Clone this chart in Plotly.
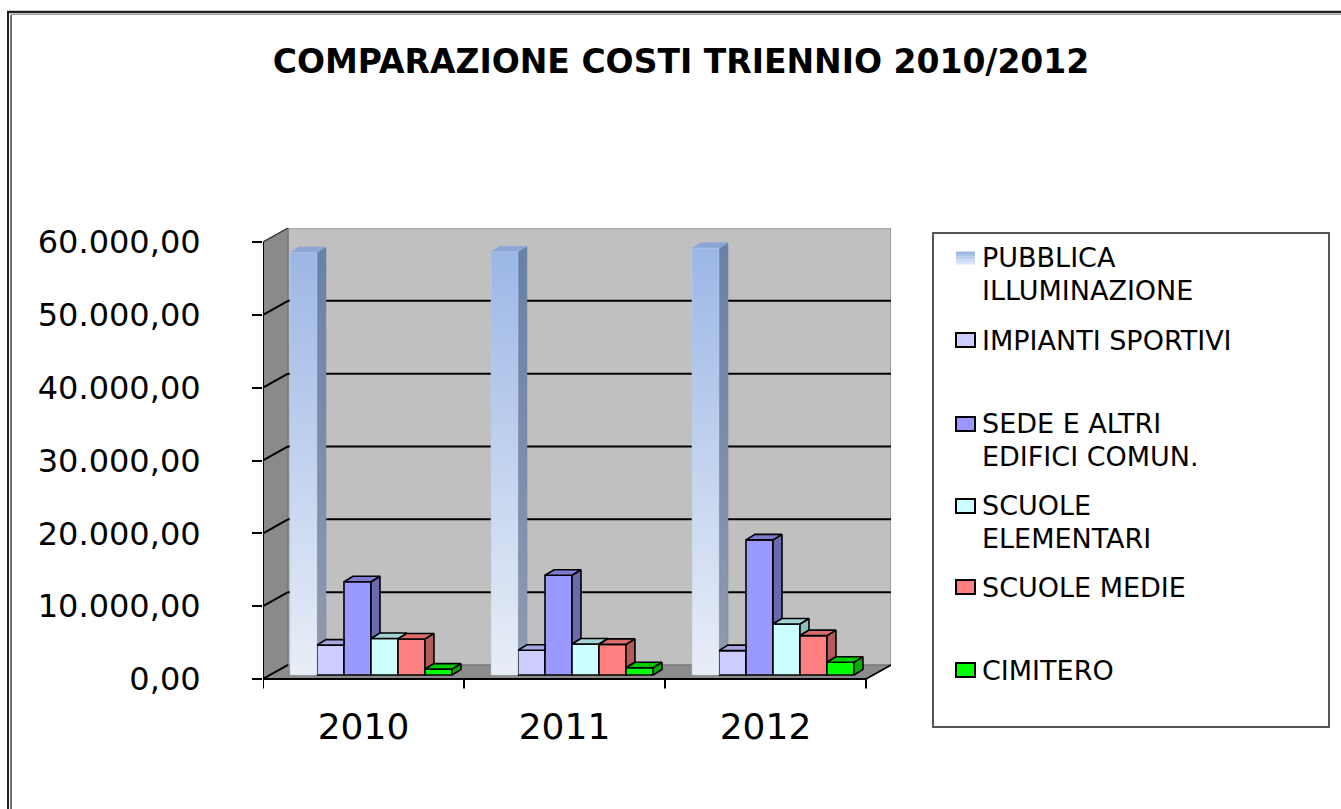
import plotly.graph_objects as go

# ---------------- data ----------------
years = ["2010", "2011", "2012"]
pubblica_illuminazione = [58000, 58100, 58600]
impianti_sportivi = [4100, 3400, 3350]
sede_altri_edifici = [12800, 13700, 18550]
scuole_elementari = [5000, 4250, 7000]
scuole_medie = [4950, 4200, 5400]
cimitero = [800, 1000, 1750]

series_names = ["PUBBLICA ILLUMINAZIONE", "IMPIANTI SPORTIVI", "SEDE E ALTRI EDIFICI COMUN.",
                "SCUOLE ELEMENTARI", "SCUOLE MEDIE", "CIMITERO"]
legend_lines = [["PUBBLICA", "ILLUMINAZIONE"], ["IMPIANTI SPORTIVI"], ["SEDE E ALTRI", "EDIFICI COMUN."],
                ["SCUOLE", "ELEMENTARI"], ["SCUOLE MEDIE"], ["CIMITERO"]]
y_tick_values = [0, 10000, 20000, 30000, 40000, 50000, 60000]
y_tick_labels = ["0,00", "10.000,00", "20.000,00", "30.000,00", "40.000,00", "50.000,00", "60.000,00"]
title_text = "COMPARAZIONE COSTI TRIENNIO 2010/2012"

series_values = [pubblica_illuminazione, impianti_sportivi, sede_altri_edifici,
                 scuole_elementari, scuole_medie, cimitero]

# ---------------- styling ----------------
front_colors = ["#B9CCEC", "#CCCCFF", "#9999FF", "#CCFFFF", "#FF8080", "#00FF00"]
top_colors = ["#8CA7D7", "#A6A6E2", "#7C7CD0", "#A3D3D3", "#D96B6B", "#00CC00"]
side_colors = ["#7086AE", "#8F8FBC", "#6A6AB0", "#8EBDBD", "#B35A5A", "#00B000"]

FONT = "DejaVu Sans"
W, H = 1341, 809
ML, MR, MT, MB = 263, 450, 228, 119
PW, PH = W - ML - MR, H - MT - MB


def px_x(px):
    return (px - ML) / PW


def px_y(py):
    return (H - MB - py) / PH


# 3D geometry in data units
X_FRONT0, X_FRONT1 = -0.5, 2.5
WALL_DX, WALL_DY = 0.1244, 1923
Y_TOP = 60000
BAR_W = 0.1343
BAR_START = -0.3657
BAR_DX, BAR_DY = 0.0448, 755
BAR_BASE = 550

fig = go.Figure()

# ---------------- front faces (bars) ----------------
for k, (name, vals) in enumerate(zip(series_names, series_values)):
    xs = [i + BAR_START + k * BAR_W for i in range(len(years))]
    fig.add_trace(go.Bar(
        x=xs, y=vals, base=BAR_BASE, width=BAR_W, offset=0, name=name,
        marker=dict(color=front_colors[k],
                    line=dict(color="black", width=0 if k == 0 else 1.6)),
        customdata=years, hovertemplate=name + " %{customdata}: %{y:,.2f}<extra></extra>",
        showlegend=False,
    ))


def poly(xs, ys, color, line_w=1.6, gradient=None):
    tr = go.Scatter(x=xs, y=ys, mode="lines", fill="toself", fillcolor=color,
                    line=dict(color="black" if line_w else color, width=line_w or 0.5),
                    hoverinfo="skip", showlegend=False)
    if gradient is not None:
        tr.update(fillgradient=gradient)
    fig.add_trace(tr)


# ---------------- side / top faces, painted left to right ----------------
n = len(series_values)
for i in range(len(years)):
    for k in range(n):
        xl = i + BAR_START + k * BAR_W
        xr = xl + BAR_W
        top = BAR_BASE + series_values[k][i]
        nxt = BAR_BASE + series_values[k + 1][i] if k + 1 < n else None
        lw = 0 if k == 0 else 1.6

        # right side face, hidden below the next bar's top
        floor = nxt if nxt is not None else BAR_BASE
        if floor < top:
            grad = None
            if k == 0:
                grad = dict(type="vertical", start=floor, stop=top + BAR_DY,
                            colorscale=[[0, "#8E99AD"], [1, "#6A80A8"]])
            poly([xr, xr, xr + BAR_DX, xr + BAR_DX, xr],
                 [floor, top, top + BAR_DY, floor + BAR_DY, floor],
                 side_colors[k], lw, grad)

        # top face, partly covered by a taller neighbour
        if nxt is None or nxt <= top:
            txs = [xl, xr, xr + BAR_DX, xl + BAR_DX, xl]
            tys = [top, top, top + BAR_DY, top + BAR_DY, top]
        else:
            m = min(nxt, top + BAR_DY)
            xb = xr + BAR_DX * (top + BAR_DY - m) / BAR_DY
            txs = [xl, xr, xr, xb, xl + BAR_DX, xl]
            tys = [top, top, m, top + BAR_DY, top + BAR_DY, top]
        poly(txs, tys, top_colors[k], lw)

        # gradient front of the lighting column
        if k == 0:
            poly([xl, xr, xr, xl, xl], [BAR_BASE, BAR_BASE, top, top, BAR_BASE],
                 front_colors[0], 0,
                 dict(type="vertical", start=BAR_BASE, stop=top,
                      colorscale=[[0, "#E9EEF7"], [1, "#9CB7E6"]]))

# ---------------- walls, floor, grid ----------------
shapes = []
bx0, bx1 = X_FRONT0 + WALL_DX, X_FRONT1 + WALL_DX
shapes.append(dict(type="rect", xref="x", yref="y", x0=bx0, x1=bx1, y0=WALL_DY, y1=Y_TOP + WALL_DY,
                   fillcolor="#C0C0C0", line=dict(color="#8A8A8A", width=1.2), layer="below"))
shapes.append(dict(type="path", xref="x", yref="y", layer="below",
                   path=f"M {X_FRONT0},0 L {bx0},{WALL_DY} L {bx0},{Y_TOP + WALL_DY} L {X_FRONT0},{Y_TOP} Z",
                   fillcolor="#8A8A8A", line=dict(color="#6E6E6E", width=1)))
shapes.append(dict(type="path", xref="x", yref="y", layer="below",
                   path=f"M {X_FRONT0},0 L {X_FRONT1},0 L {bx1},{WALL_DY} L {bx0},{WALL_DY} Z",
                   fillcolor="#8C8C8C", line=dict(color="#6E6E6E", width=1)))
for v in y_tick_values:
    if 0 < v < Y_TOP:
        shapes.append(dict(type="line", xref="x", yref="y", x0=bx0, x1=bx1, y0=v + WALL_DY, y1=v + WALL_DY,
                           line=dict(color="black", width=2), layer="below"))
    shapes.append(dict(type="line", xref="x", yref="y", x0=X_FRONT0, x1=bx0, y0=v, y1=v + WALL_DY,
                       line=dict(color="black" if v < Y_TOP else "#333333", width=2 if v < Y_TOP else 1.2),
                       layer="below"))
# front axes
shapes.append(dict(type="line", xref="x", yref="y", x0=X_FRONT0, x1=X_FRONT0, y0=-1100, y1=Y_TOP,
                   line=dict(color="black", width=2), layer="below"))
shapes.append(dict(type="line", xref="x", yref="y", x0=X_FRONT0, x1=X_FRONT1, y0=0, y1=0,
                   line=dict(color="black", width=2.2), layer="below"))
shapes.append(dict(type="line", xref="x", yref="y", x0=X_FRONT1, x1=bx1, y0=0, y1=WALL_DY,
                   line=dict(color="black", width=1.6), layer="below"))
for j in range(len(years) + 1):
    xb = X_FRONT0 + j
    shapes.append(dict(type="line", xref="x", yref="y", x0=xb, x1=xb, y0=0, y1=-1300,
                       line=dict(color="black", width=2), layer="below"))

# ---------------- legend box ----------------
shapes.append(dict(type="rect", xref="paper", yref="paper", x0=px_x(933), x1=px_x(1329),
                   y0=px_y(727), y1=px_y(233), line=dict(color="#555555", width=2), fillcolor="white"))
swatch_rows = [258, 340, 424, 506, 587, 670]
text_rows = [[257, 290], [340], [423, 456], [505, 538], [587], [670]]
annotations = []
for k in range(n):
    cy = swatch_rows[k]
    if k == 0:
        strips = ["#9CB5E2", "#A9C0E7", "#BACDED", "#CBD9F2", "#DAE4F6"]
        h = 13 / len(strips)
        for s, c in enumerate(strips):
            shapes.append(dict(type="rect", xref="paper", yref="paper",
                               x0=px_x(956), x1=px_x(975), y0=px_y(cy - 6.5 + (s + 1) * h),
                               y1=px_y(cy - 6.5 + s * h), fillcolor=c, line=dict(width=0)))
    else:
        shapes.append(dict(type="rect", xref="paper", yref="paper", x0=px_x(956), x1=px_x(975),
                           y0=px_y(cy + 7), y1=px_y(cy - 7), fillcolor=front_colors[k],
                           line=dict(color="black", width=2)))
    for line_txt, ty in zip(legend_lines[k], text_rows[k]):
        annotations.append(dict(text=line_txt, xref="paper", yref="paper", x=px_x(981), y=px_y(ty),
                                xanchor="left", yanchor="middle", showarrow=False, borderpad=0,
                                font=dict(family=FONT, size=27, color="black")))

# ---------------- outer frame ----------------
for d, col, wd in [(0, "#222222", 2), (3, "#444444", 1.5)]:
    shapes.append(dict(type="line", xref="paper", yref="paper", x0=px_x(8 + d), x1=px_x(8 + d),
                       y0=px_y(12 + d), y1=px_y(820), line=dict(color=col, width=wd)))
shapes.append(dict(type="line", xref="paper", yref="paper", x0=px_x(7), x1=px_x(1345),
                   y0=px_y(12), y1=px_y(12), line=dict(color="#222222", width=2.5)))
shapes.append(dict(type="line", xref="paper", yref="paper", x0=px_x(11), x1=px_x(1345),
                   y0=px_y(14.5), y1=px_y(14.5), line=dict(color="#9A9A9A", width=1)))

fig.update_layout(
    width=W, height=H,
    margin=dict(l=ML, r=MR, t=MT, b=MB, pad=0),
    paper_bgcolor="white", plot_bgcolor="white",
    barmode="overlay", showlegend=False,
    shapes=shapes, annotations=annotations,
    title=dict(text="<b>" + title_text + "</b>", x=681 / W, xanchor="center",
               y=1 - 61 / H, yanchor="middle", yref="container",
               font=dict(family=FONT, size=33, color="black")),
    xaxis=dict(range=[X_FRONT0, X_FRONT1 + WALL_DX], tickvals=[0, 1, 2], ticktext=years,
               showgrid=False, zeroline=False, showline=False, ticks="", ticklabelstandoff=12,
               tickfont=dict(family=FONT, size=36, color="black"), fixedrange=True),
    yaxis=dict(range=[-1511, Y_TOP + WALL_DY], tickvals=y_tick_values, ticktext=y_tick_labels,
               showgrid=False, zeroline=False, showline=False, ticks="outside", ticklen=10,
               tickwidth=2, tickcolor="black", ticklabelstandoff=45,
               tickfont=dict(family=FONT, size=32, color="black"), fixedrange=True),
)

fig.write_html("out.html")
